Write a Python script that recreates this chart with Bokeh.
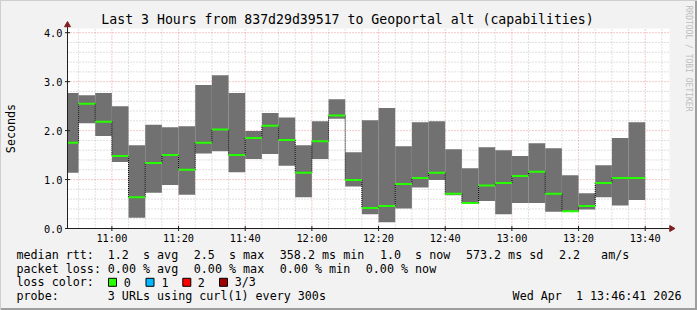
import math
from bokeh.plotting import figure
from bokeh.models import Range1d, Label
from bokeh.core.properties import value
from bokeh.embed import file_html
from bokeh.resources import INLINE

# ---------------- data ----------------
range_start = "10:46:41"
range_end = "13:46:41"
slot_end = ["10:50", "10:55", "11:00", "11:05", "11:10", "11:15", "11:20", "11:25",
            "11:30", "11:35", "11:40", "11:45", "11:50", "11:55", "12:00", "12:05",
            "12:10", "12:15", "12:20", "12:25", "12:30", "12:35", "12:40", "12:45",
            "12:50", "12:55", "13:00", "13:05", "13:10", "13:15", "13:20", "13:25",
            "13:30", "13:35", "13:40"]
smoke_top = [2.77, 2.72, 2.77, 2.50, 1.70, 2.12, 2.07, 2.09, 2.93, 3.13, 2.77, 1.99,
             2.36, 2.27, 1.70, 2.19, 2.64, 1.56, 2.21, 2.46, 1.68, 2.17, 2.19, 1.62,
             1.23, 1.66, 1.60, 1.48, 1.74, 1.64, 1.09, 0.72, 1.29, 1.85, 2.17]
smoke_bottom = [1.14, 2.15, 1.89, 1.36, 0.22, 0.73, 0.89, 0.69, 1.53, 1.58, 1.15, 1.42,
                1.52, 1.28, 0.64, 1.42, 2.24, 0.86, 0.29, 0.13, 0.41, 0.84, 0.99, 0.68,
                0.50, 0.56, 0.29, 0.52, 0.52, 0.34, 0.34, 0.39, 0.64, 0.47, 0.58]
median = [1.75, 2.55, 2.18, 1.48, 0.64, 1.34, 1.50, 1.20, 1.75, 2.02, 1.50, 1.85,
          2.10, 1.81, 1.14, 1.78, 2.31, 0.99, 0.42, 0.46, 0.91, 1.03, 1.14, 0.71,
          0.52, 0.88, 0.93, 1.07, 1.16, 0.71, 0.35, 0.46, 0.93, 1.03, 1.03]
x_tick_labels = ["11:00", "11:20", "11:40", "12:00", "12:20", "12:40", "13:00", "13:20", "13:40"]
y_tick_values = [0, 1, 2, 3, 4]
y_tick_labels = ["0.0", "1.0", "2.0", "3.0", "4.0"]
loss_labels = ["0", "1", "2", "3/3"]
loss_colors = ["#26ff00", "#00b8ff", "#ff0000", "#a00000"]

title_text = "Last 3 Hours from 837d29d39517 to Geoportal alt (capabilities)"
legend_line1 = [("median rtt:", 16), ("1.2  s avg", 107.3), ("2.5  s max", 193.3),
                ("358.2 ms min", 279.3), ("1.0  s now", 379.4), ("573.2 ms sd", 465.4),
                ("2.2   am/s", 558.4)]
legend_line2 = [("packet loss:", 16), ("0.00 % avg", 107.3), ("0.00 % max", 193.3),
                ("0.00 % min", 279.3), ("0.00 % now", 365.3)]
probe_text = "3 URLs using curl(1) every 300s"
date_text = "Wed Apr  1 13:46:41 2026"


def tmin(s):
    parts = [int(v) for v in s.split(":")]
    while len(parts) < 3:
        parts.append(0)
    return parts[0] * 60 + parts[1] + parts[2] / 60.0


# ---------------- layout (pixel geometry of the graph area) ----------------
W, H = 697, 310
FL, FR, FT, FB = 67, 669, 28, 228
PX_PER_MIN = 600.0 / (tmin(range_end) - tmin(range_start))
PX_PER_UNIT = 48.95
x0 = tmin(range_start)


def dx(px):
    return x0 + (px - FL) / PX_PER_MIN


def dy(py):
    return (FB - py) / PX_PER_UNIT


x_end = dx(FR)
y_top = dy(FT)

# the frame covers the whole canvas; the time / seconds scales are set so the
# graph area lands on the rrdtool canvas position
p = figure(width=W, height=H, x_range=Range1d(dx(0), dx(W)), y_range=Range1d(dy(H), dy(0)),
           output_backend="svg", toolbar_location=None,
           min_border=0, x_axis_type=None, y_axis_type=None)
p.title = None
p.xgrid.visible = False
p.ygrid.visible = False
p.background_fill_color = None
p.border_fill_color = None
p.outline_line_color = None
p.styles = {"background-color": "#f2f2f2",
            "box-shadow": "inset 1px 1px 0 #cfcfcf, inset -2px -2px 0 #9e9e9e"}

# graph canvas
p.quad(left=[x0], right=[x_end], bottom=[0], top=[y_top], fill_color="white", line_color=None)

# ---------------- grid ----------------
x_major = [tmin(t) for t in x_tick_labels]
x_minor = [m for m in range(int(tmin("10:50")), int(tmin("13:46")), 5) if m not in x_major]
y_minor = [round(i * 0.2, 1) for i in range(1, 21) if i % 5 != 0 and i * 0.2 < y_top]
y_major = [v for v in y_tick_values if v > 0]

p.segment(x0=x_minor, y0=[0] * len(x_minor), x1=x_minor, y1=[y_top] * len(x_minor),
          line_color="#8f8f8f", line_alpha=0.55, line_dash="1 2")
p.segment(x0=[x0] * len(y_minor), y0=y_minor, x1=[x_end] * len(y_minor), y1=y_minor,
          line_color="#8f8f8f", line_alpha=0.55, line_dash="1 2")
p.segment(x0=x_major, y0=[0] * len(x_major), x1=x_major, y1=[y_top] * len(x_major),
          line_color="#de4f4f", line_alpha=0.6, line_dash="1 2")
p.segment(x0=[x0] * len(y_major), y0=y_major, x1=[x_end] * len(y_major), y1=y_major,
          line_color="#de4f4f", line_alpha=0.6, line_dash="1 2")

# ---------------- smoke & median ----------------
right = [tmin(t) for t in slot_end]
left = [x0] + right[:-1]

p.quad(left=left, right=right, bottom=smoke_bottom, top=smoke_top,
       fill_color="#717171", line_color=None)
p.segment(x0=right[:-1], y0=median[:-1], x1=right[:-1], y1=median[1:],
          line_color="black", line_width=1, line_dash="1 1")
p.segment(x0=left, y0=median, x1=right, y1=median,
          line_color=loss_colors[0], line_width=2)

# ---------------- axes ----------------
AX = "#1f1f1f"
p.segment(x0=[x0, x0], y0=[0, 0], x1=[x_end, x0], y1=[0, dy(24)], line_color=AX, line_width=1)
p.scatter(x=[x0] * len(y_tick_values), y=y_tick_values, marker="dash", size=5,
          line_color=AX, line_width=1)
p.scatter(x=x_major, y=[0] * len(x_major), marker="dash", angle=math.pi / 2, size=5,
          line_color=AX, line_width=1)
p.scatter(x=[x0], y=[dy(24.5)], marker="triangle", size=6, fill_color="#801f1f",
          line_color="#801f1f")
p.scatter(x=[dx(671)], y=[0], marker="triangle", angle=-math.pi / 2, size=6,
          fill_color="#801f1f", line_color="#801f1f")

MONO = "DejaVu Sans Mono"

p.text(x=[x0] * len(y_tick_values), y=y_tick_values, text=y_tick_labels, x_offset=-5,
       text_align="right", text_baseline="middle", text_font=value(MONO),
       text_font_size="10.3px", text_color="black")
p.text(x=x_major, y=[0] * len(x_major), text=x_tick_labels, y_offset=9.5,
       text_align="center", text_baseline="middle", text_font=value(MONO),
       text_font_size="10.3px", text_color="black")


# ---------------- texts ----------------
def txt(s, px, py, size="11.7px", align="left", color="black", angle=0.0):
    # keep runs of spaces (SVG would collapse ordinary spaces)
    s = s.replace(" ", "\u00a0")
    p.add_layout(Label(x=dx(px), y=dy(py), text=s, text_font=MONO, text_font_size=size,
                       text_align=align, text_baseline="middle", text_color=color,
                       angle=angle))


txt(title_text, 347, 19.3, size="13.2px", align="center")
txt("Seconds", 10, 128, align="center", angle=math.pi / 2)
txt("RRDTOOL / TOBI OETIKER", 687.5, 5, size="8px", color="#bdbdbd", angle=-math.pi / 2)

L1, L2, L3, L4 = 254.3, 268.0, 281.8, 295.6
for s, x in legend_line1:
    txt(s, x, L1)
for s, x in legend_line2:
    txt(s, x, L2)
txt("loss color:", 16, L3)
sw_x = [112.0, 149.5, 186.3, 223.0]
lab_x = [123.3, 161.0, 197.3, 234.3]
p.scatter(x=[dx(v) for v in sw_x], y=[dy(L3)] * len(sw_x), marker="square", size=8,
          fill_color=loss_colors, line_color="black", line_width=1)
for lab, lx in zip(loss_labels, lab_x):
    txt(lab, lx, L3)
txt("probe:", 16, L4)
txt(probe_text, 107.3, L4)
txt(date_text, 681, L4, align="right")

open("out.html", "w").write(file_html(p, INLINE))
